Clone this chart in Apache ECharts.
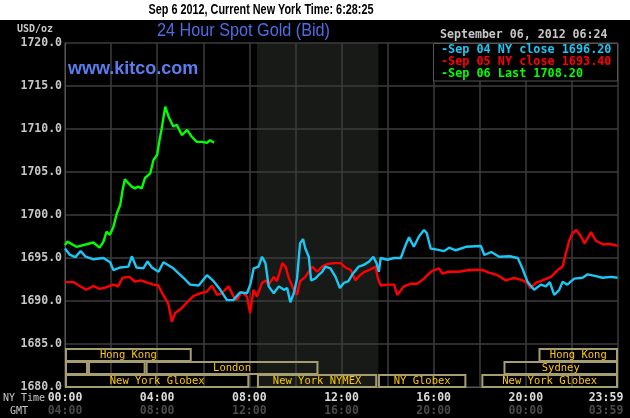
<!DOCTYPE html>
<html><head><meta charset="utf-8">
<script src="https://cdn.jsdelivr.net/npm/echarts@6/dist/echarts.min.js"></script>
<style>html,body{margin:0;padding:0;background:#000}#c{width:630px;height:418px}</style>
</head><body><div id="c"></div>
<script>
// ---- data (hours NY time, USD/oz) ----
const sep04 = [[0,1696.1],[0.2,1695.4],[0.45,1695.1],[0.68,1695.8],[0.9,1695.15],[1.23,1694.85],[1.67,1695.0],[1.96,1694.5],[2.1,1693.6],[2.4,1693.9],[2.75,1694.0],[2.9,1695.2],[3.1,1693.9],[3.4,1693.8],[3.58,1694.6],[3.77,1693.9],[4.06,1693.4],[4.27,1694.5],[4.4,1694.3],[4.7,1693.8],[5.14,1692.7],[5.43,1691.9],[5.8,1691.8],[6.16,1693.0],[6.45,1692.3],[6.74,1691.3],[7.03,1690.1],[7.3,1690.1],[7.6,1691.0],[7.9,1690.9],[8.05,1692.0],[8.19,1693.8],[8.4,1694.0],[8.55,1695.15],[8.7,1694.4],[8.84,1691.7],[9.06,1690.9],[9.28,1691.7],[9.5,1691.3],[9.64,1691.5],[9.78,1689.85],[9.93,1690.9],[10.07,1692.6],[10.2,1696.7],[10.33,1697.2],[10.43,1696.1],[10.58,1695.15],[10.68,1692.4],[10.86,1692.6],[11.0,1693.0],[11.16,1693.4],[11.3,1694.0],[11.52,1693.8],[11.74,1692.8],[11.93,1691.5],[12.1,1692.1],[12.3,1692.3],[12.5,1693.2],[12.75,1694.0],[12.97,1694.2],[13.2,1694.6],[13.38,1695.15],[13.52,1694.4],[13.62,1693.4],[13.7,1695.0],[13.99,1694.8],[14.28,1695.0],[14.57,1695.0],[14.78,1696.5],[14.93,1697.4],[15.14,1696.3],[15.36,1697.5],[15.58,1698.25],[15.7,1697.9],[15.87,1696.1],[16.09,1696.0],[16.45,1695.8],[16.67,1696.2],[16.96,1695.9],[17.4,1696.3],[18.05,1696.4],[18.2,1695.35],[18.5,1695.7],[18.84,1695.15],[19.3,1695.2],[19.65,1695.0],[19.85,1693.8],[20.07,1692.25],[20.36,1691.3],[20.65,1691.9],[20.87,1691.7],[21.04,1692.2],[21.23,1690.7],[21.45,1691.3],[21.6,1692.25],[21.8,1691.9],[22.1,1692.6],[22.46,1692.7],[22.68,1693.1],[23.04,1692.9],[23.33,1692.7],[23.7,1692.8],[23.98,1692.7]];
const sep05 = [[0,1692.2],[0.36,1692.2],[0.64,1691.75],[0.93,1691.3],[1.23,1691.75],[1.5,1691.4],[1.8,1691.6],[2.1,1691.9],[2.3,1691.7],[2.5,1692.7],[2.8,1692.8],[3.03,1692.25],[3.3,1692.4],[3.6,1692.1],[3.84,1691.9],[4.05,1691.8],[4.26,1690.7],[4.48,1689.7],[4.64,1687.6],[4.78,1688.6],[5.0,1689.0],[5.3,1689.85],[5.58,1690.6],[5.87,1690.9],[6.16,1691.1],[6.38,1691.8],[6.6,1690.7],[6.8,1690.9],[7.1,1691.7],[7.32,1690.5],[7.45,1690.1],[7.68,1691.1],[7.9,1690.5],[8.03,1688.6],[8.18,1691.3],[8.33,1690.5],[8.55,1692.1],[8.7,1692.4],[8.84,1691.9],[9.06,1692.8],[9.2,1692.3],[9.43,1694.4],[9.57,1694.0],[9.72,1692.6],[9.93,1691.3],[10.07,1690.7],[10.2,1692.3],[10.43,1692.8],[10.58,1693.4],[10.73,1694.0],[10.94,1693.4],[11.16,1694.0],[11.38,1694.3],[11.67,1694.4],[11.96,1694.4],[12.17,1693.9],[12.4,1693.6],[12.6,1692.4],[12.8,1693.0],[13.0,1693.4],[13.2,1693.6],[13.48,1694.0],[13.58,1692.6],[13.7,1691.8],[13.99,1691.9],[14.28,1691.9],[14.42,1690.7],[14.7,1691.7],[15.0,1692.0],[15.29,1692.0],[15.58,1692.6],[15.8,1693.2],[15.94,1693.5],[16.23,1693.8],[16.38,1693.2],[16.67,1693.4],[17.1,1693.4],[17.53,1693.6],[18.12,1693.6],[18.4,1693.3],[18.77,1693.0],[19.13,1692.4],[19.5,1692.7],[19.86,1692.4],[20.07,1692.1],[20.2,1691.5],[20.43,1692.1],[20.72,1692.4],[21.09,1692.8],[21.38,1693.6],[21.6,1694.0],[21.7,1695.15],[21.88,1697.0],[22.03,1697.9],[22.2,1698.25],[22.39,1697.5],[22.55,1696.7],[22.83,1698.0],[23.04,1697.0],[23.33,1696.6],[23.7,1696.6],[23.98,1696.4]];
const sep06 = [[0,1696.5],[0.1,1696.9],[0.5,1696.3],[0.94,1696.6],[1.23,1696.8],[1.5,1696.2],[1.67,1696.9],[1.8,1698.05],[1.95,1697.7],[2.1,1698.6],[2.25,1700.2],[2.4,1701.2],[2.5,1702.9],[2.6,1704.15],[2.75,1703.7],[2.9,1703.3],[3.03,1703.1],[3.18,1703.3],[3.33,1703.1],[3.47,1704.3],[3.7,1704.85],[3.84,1706.4],[4.0,1707.0],[4.1,1708.7],[4.2,1710.1],[4.35,1712.6],[4.5,1711.4],[4.7,1710.3],[4.85,1710.5],[5.07,1709.3],[5.3,1709.9],[5.5,1709.1],[5.72,1708.5],[5.94,1708.5],[6.16,1708.4],[6.3,1708.7],[6.47,1708.4]];
const seriesNames = ['Sep 04 NY close', 'Sep 05 NY close', 'Sep 06 Last'];
const seriesLast = ['1696.20', '1693.40', '1708.20'];
const timeTickHours = [0, 4, 8, 12, 16, 20, 24];
const timeLabelsNY = ['00:00', '04:00', '08:00', '12:00', '16:00', '20:00', '23:59'];
const timeLabelsGMT = ['04:00', '08:00', '12:00', '16:00', '20:00', '00:00', '03:59'];
const marketNames = ['Hong Kong', 'Hong Kong', '', '', 'London', 'Sydney', 'New York Globex', 'New York NYMEX', 'NY Globex', 'New York Globex'];
const marketStart = [0, 20.55, 0, 1.0, 3.5, 19.03, 0, 8.33, 13.58, 18.07];
const marketEnd = [5.5, 24, 1.0, 3.5, 11.0, 24, 8.0, 13.55, 17.42, 24];
const marketRow = [0, 0, 1, 1, 1, 1, 2, 2, 2, 2];
const nymexSession = [[8.33, 13.6]];
const headerText = 'Sep 6 2012, Current New York Time: 6:28:25';
const chartTitle = '24 Hour Spot Gold (Bid)';
const dateText = 'September 06, 2012 06:24';

const colors = ['#19c8f5', '#ff0000', '#00ff00'];
const MONO = "'DejaVu Sans Mono', monospace";
const HEADER_FONT = "bold 14.5px 'Liberation Sans Narrow','Liberation Sans',sans-serif";
const TITLE_FONT = "18px 'Liberation Sans',sans-serif";

const ctx = document.createElement('canvas').getContext('2d');
function fitScale(text, font, width) { ctx.font = font; return width / ctx.measureText(text).width; }

const chart = echarts.init(document.getElementById('c'), null, {renderer: 'canvas'});

const lineSeries = [sep05, sep04, sep06].map((d, k) => {
  const idx = [1, 0, 2][k];
  return {
    type: 'line', name: seriesNames[idx], data: d, showSymbol: false, z: 3,
    lineStyle: {color: colors[idx], width: 2.4}, itemStyle: {color: colors[idx]}, animation: false
  };
});

const option = {
  backgroundColor: '#000',
  animation: false,
  grid: {left: 65, right: 12, top: 43, bottom: 31, containLabel: false, outerBoundsMode: 'none'},
  xAxis: {
    type: 'value', min: 0, max: 24, interval: 2,
    axisLine: {show: true, lineStyle: {color: '#555', width: 1}},
    axisTick: {show: false},
    splitLine: {show: true, lineStyle: {color: '#3c3c3c', width: 1.5}},
    axisLabel: {
      margin: 5,
      formatter: v => {
        const i = timeTickHours.indexOf(v);
        if (i < 0) return '';
        const last = i === timeTickHours.length - 1;
        return '{' + (last ? 'a2' : 'a') + '|' + timeLabelsNY[i] + '}\n{' + (last ? 'b2' : 'b') + '|' + timeLabelsGMT[i] + '}';
      },
      rich: {
        a: {color: '#dcdcdc', fontFamily: MONO, fontWeight: 'bold', fontSize: 11.5, lineHeight: 13},
        b: {color: '#4a4a4a', fontFamily: MONO, fontWeight: 'bold', fontSize: 11.5, lineHeight: 13},
        a2: {color: '#dcdcdc', fontFamily: MONO, fontWeight: 'bold', fontSize: 11.5, lineHeight: 13, padding: [0, 24, 0, 0]},
        b2: {color: '#4a4a4a', fontFamily: MONO, fontWeight: 'bold', fontSize: 11.5, lineHeight: 13, padding: [0, 24, 0, 0]}
      }
    }
  },
  yAxis: {
    type: 'value', min: 1680, max: 1720, interval: 5,
    axisLine: {show: true, lineStyle: {color: '#555'}},
    axisTick: {show: false},
    splitLine: {show: true, lineStyle: {color: '#3c3c3c', width: 1.5}},
    axisLabel: {
      margin: 3, color: '#c8c8c8', fontFamily: MONO, fontWeight: 'bold', fontSize: 11.5,
      formatter: v => v.toFixed(1)
    }
  },
  series: [
    {
      type: 'custom', z: -1, silent: true, data: nymexSession,
      renderItem: (params, api) => {
        const a = api.coord([api.value(0), 1720]);
        const b = api.coord([api.value(1), 1680]);
        return {type: 'rect', shape: {x: a[0], y: a[1], width: b[0] - a[0], height: b[1] - a[1]}, style: {fill: '#171a16'}};
      }
    },
    {
      type: 'custom', z: 2, silent: true,
      data: marketStart.map((s, i) => [s, marketEnd[i], marketRow[i]]),
      renderItem: (params, api) => {
        const s = api.coord([api.value(0), 1685]);
        const e = api.coord([api.value(1), 1680]);
        const row = api.value(2);
        const top0 = s[1] + 4;
        const h = (e[1] - top0) / 3;
        const y = top0 + row * h;
        return {
          type: 'group', children: [
            {type: 'rect', shape: {x: s[0] + 1, y: y + 1, width: e[0] - s[0] - 2, height: h - 1}, style: {fill: null, stroke: '#a69e6e', lineWidth: 2}},
            {type: 'text', style: {text: marketNames[params.dataIndex], x: (s[0] + e[0]) / 2, y: y + h / 2 + 1, align: 'center', verticalAlign: 'middle', fill: '#ffc800', font: '10.5px ' + MONO}}
          ]
        };
      }
    },
    ...lineSeries
  ],
  graphic: [
    {type: 'rect', z: 10, shape: {x: 0, y: 0, width: 630, height: 20}, style: {fill: '#fff'}},
    {type: 'text', z: 11, x: 261, y: 10, scaleX: fitScale(headerText, HEADER_FONT, 225),
      style: {text: headerText, x: 0, y: 0, align: 'center', verticalAlign: 'middle', fill: '#000', font: HEADER_FONT}},
    {type: 'text', z: 11, style: {text: 'USD/oz', x: 17, y: 29, verticalAlign: 'middle', fill: '#c8c8c8', font: 'bold 10px ' + MONO}},
    {type: 'text', z: 11, x: 243.5, y: 31, scaleX: fitScale(chartTitle, TITLE_FONT, 173),
      style: {text: chartTitle, x: 0, y: 0, align: 'center', verticalAlign: 'middle', fill: '#4b6fe6', font: TITLE_FONT}},
    {type: 'text', z: 11, style: {text: dateText, x: 440, y: 35, verticalAlign: 'middle', fill: '#c8c8c8', font: 'bold 11.6px ' + MONO}},
    {type: 'rect', z: 10, shape: {x: 433.5, y: 43.5, width: 184, height: 37.5}, style: {fill: '#000', stroke: '#555', lineWidth: 1}},
    ...[0, 1, 2].map(i => ({type: 'text', z: 11, style: {text: '-' + seriesNames[i] + ' ' + seriesLast[i], x: 441, y: 49.5 + i * 12, verticalAlign: 'middle', fill: colors[i], font: 'bold 11.8px ' + MONO}})),
    {type: 'text', z: 11, style: {text: 'www.kitco.com', x: 68, y: 69, verticalAlign: 'middle', fill: '#5a7ef0', font: "bold 18px 'Liberation Sans',sans-serif"}},
    {type: 'text', z: 11, style: {text: 'NY Time', x: 3, y: 398, verticalAlign: 'middle', fill: '#c8c8c8', font: '10px ' + MONO}},
    {type: 'text', z: 11, style: {text: 'GMT', x: 10, y: 411, verticalAlign: 'middle', fill: '#c8c8c8', font: '10px ' + MONO}}
  ]
};
chart.setOption(option);
</script>
</body></html>
